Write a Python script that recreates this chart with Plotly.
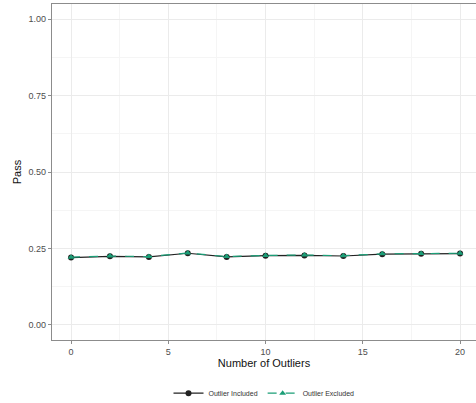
import plotly.graph_objects as go

outliers = [0, 2, 4, 6, 8, 10, 12, 14, 16, 18, 20]
pass_included = [0.220, 0.224, 0.222, 0.234, 0.222, 0.226, 0.227, 0.225, 0.231, 0.232, 0.233]
pass_excluded = [0.221, 0.225, 0.223, 0.235, 0.223, 0.227, 0.228, 0.226, 0.232, 0.233, 0.234]
x_ticks = [0, 5, 10, 15, 20]
y_ticks = [0.0, 0.25, 0.5, 0.75, 1.0]

teal = "#1B9E77"
fig = go.Figure()
fig.add_trace(go.Scatter(
    x=outliers, y=pass_included, mode="lines+markers", name="Outlier Included",
    line=dict(color="#222222", width=1.2),
    marker=dict(symbol="circle", size=6, color="#222222"),
))
fig.add_trace(go.Scatter(
    x=outliers, y=pass_excluded, mode="lines+markers", name="Outlier Excluded",
    line=dict(color=teal, width=1.2, dash="dash"),
    marker=dict(symbol="triangle-up", size=6, color=teal),
))

grid_major = "#ebebeb"
fig.update_layout(
    width=476, height=403,
    margin=dict(l=52, r=0, t=4, b=63, autoexpand=False),
    paper_bgcolor="white", plot_bgcolor="white",
    font=dict(family="Liberation Sans, Arial, sans-serif", color="#4d4d4d"),
    showlegend=True,
    legend=dict(orientation="h", x=0.5, xanchor="center", y=-0.115, yanchor="top",
                font=dict(size=7, color="#333333"), itemwidth=30,
                bgcolor="rgba(0,0,0,0)"),
    xaxis=dict(
        range=[-0.98, 20.82], tickvals=x_ticks, ticktext=[str(v) for v in x_ticks],
        automargin=False,
        showgrid=True, gridcolor=grid_major, gridwidth=1,
        minor=dict(tickvals=[2.5, 7.5, 12.5, 17.5], showgrid=True, gridcolor="#f5f5f5", gridwidth=1),
        showline=True, linecolor="#8c8c8c", linewidth=1.2, mirror=True,
        ticks="outside", ticklen=3, tickcolor="#8c8c8c",
        tickfont=dict(size=9, color="#4d4d4d"),
        zeroline=False,
        title=dict(text="Number of Outliers", font=dict(size=11, color="#111111"), standoff=2),
    ),
    yaxis=dict(
        range=[-0.05, 1.05], tickvals=y_ticks, tickformat=".2f",
        automargin=False,
        showgrid=True, gridcolor=grid_major, gridwidth=1,
        minor=dict(tickvals=[0.125, 0.375, 0.625, 0.875], showgrid=True, gridcolor="#f5f5f5", gridwidth=1),
        showline=True, linecolor="#8c8c8c", linewidth=1.2, mirror=False,
        ticks="outside", ticklen=3, tickcolor="#8c8c8c",
        tickfont=dict(size=9, color="#4d4d4d"),
        zeroline=False,
        title=dict(text="Pass", font=dict(size=11, color="#111111"), standoff=4),
    ),
)

fig.write_html("out.html", config={"displayModeBar": False},
               post_script="document.body.style.margin='0px';document.body.style.overflow='hidden';")
